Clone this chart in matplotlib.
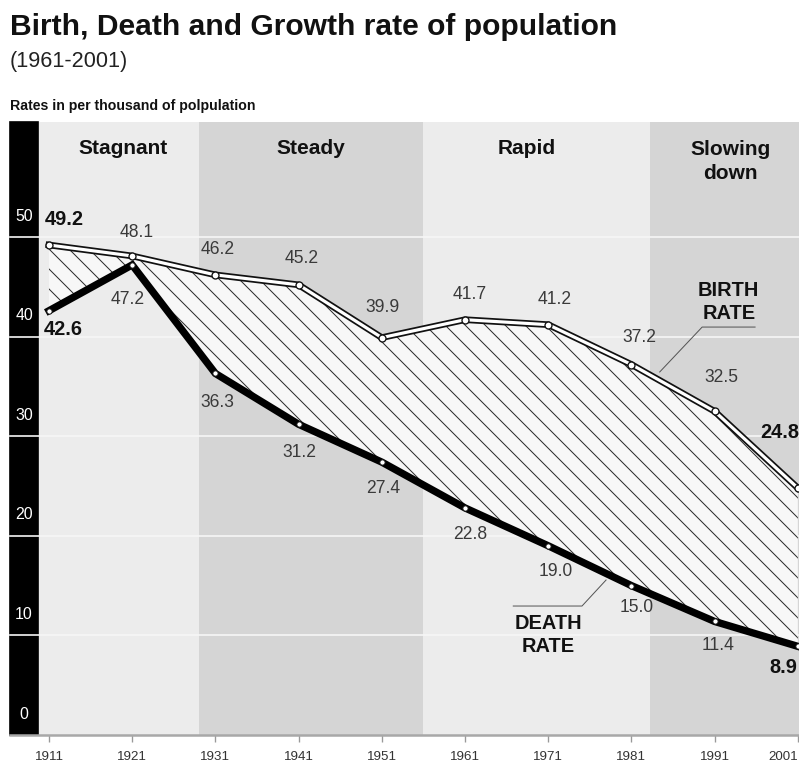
import matplotlib
matplotlib.use("Agg")
import matplotlib.pyplot as plt
from matplotlib.patches import Rectangle
from matplotlib.transforms import blended_transform_factory

# data
years = [1911, 1921, 1931, 1941, 1951, 1961, 1971, 1981, 1991, 2001]
birth_rate = [49.2, 48.1, 46.2, 45.2, 39.9, 41.7, 41.2, 37.2, 32.5, 24.8]
death_rate = [42.6, 47.2, 36.3, 31.2, 27.4, 22.8, 19.0, 15.0, 11.4, 8.9]

phase_names = ["Stagnant", "Steady", "Rapid", "Slowing\ndown"]
phase_edges = [1909.68, 1929.0, 1956.0, 1983.2, 2001.2]
phase_colors = ["#ececec", "#d5d5d5", "#ececec", "#d5d5d5"]
phase_label_x = [1919.9, 1942.5, 1968.4, 1992.9]

y_ticks = [0, 10, 20, 30, 40, 50]

# label offsets in pixels from each point
birth_offsets = [(15, 25), (4, 23), (2, 25), (3, 26), (1, 30), (5, 25), (6, 25), (8, 27), (7, 34), (-18, 56)]
death_offsets = [(14, -19), (-5, -35), (2, -29), (1, -28), (1, -26), (5, -27), (7, -26), (5, -22), (3, -24), (-15, -21)]

plt.rcParams["font.family"] = ["Liberation Sans", "DejaVu Sans"]
plt.rcParams["hatch.linewidth"] = 0.6

DPI = 120
fig = plt.figure(figsize=(799 / DPI, 769 / DPI), dpi=DPI)
fig.patch.set_facecolor("white")
ax = fig.add_axes([38 / 799, 34 / 769, 761 / 799, 613 / 769])
ax.set_xlim(1909.68, 2001.14)
ax.set_ylim(0, 61.55)

bar_w = 28 / 761

# phase bands
for name, x0, x1, col, lx in zip(phase_names, phase_edges[:-1], phase_edges[1:],
                                 phase_colors, phase_label_x):
    ax.axvspan(x0, x1, color=col, lw=0, zorder=0)
    yy = 58.9 if "\n" not in name else 57.58
    ax.text(lx, yy, name, ha="center", va="center", fontsize=12.5, fontweight="bold",
            color="#111", linespacing=1.3, zorder=6)

# black bar with y labels
ax.add_patch(Rectangle((-bar_w, 0), bar_w, 1, transform=ax.transAxes,
                       color="black", clip_on=False, zorder=1))
bt = blended_transform_factory(ax.transAxes, ax.transData)
for v in y_ticks:
    if v > 0:
        ax.axhline(v, xmin=-bar_w, xmax=1, color="#f6f6f6", lw=1.0, clip_on=False, zorder=2)
    ax.text(-bar_w / 2, v + 2.1, str(v), transform=bt, ha="center", va="center",
            fontsize=9.5, color="white", zorder=3)
ax.axhline(0, xmin=-bar_w, xmax=1, color="#a8a8a8", lw=1.5, clip_on=False, zorder=3)

# hatched gap between birth and death rates
ax.fill_between(years, death_rate, birth_rate, facecolor="#f7f7f7", edgecolor="#2a2a2a",
                hatch="\\\\", lw=0, zorder=3)

# birth rate: double line
ax.plot(years, birth_rate, color="#111", lw=4.0, solid_joinstyle="miter", zorder=4)
ax.plot(years, birth_rate, color="white", lw=1.9, solid_joinstyle="miter", zorder=4)
ax.plot(years, birth_rate, ls="none", marker="o", ms=4.2, mfc="white", mec="#111", mew=0.8, zorder=5)

# death rate: thick black line
ax.plot(years, death_rate, color="black", lw=4.4, solid_joinstyle="miter", zorder=4)
ax.plot(years, death_rate, ls="none", marker="o", ms=3.2, mfc="white", mec="#111", mew=0.6, zorder=5)

# value labels
last = len(years) - 1
for i, (yr, b, d) in enumerate(zip(years, birth_rate, death_rate)):
    kw = dict(textcoords="offset pixels", ha="center", va="center", zorder=6,
              annotation_clip=False)
    if i in (0, last):
        kw.update(fontsize=12, fontweight="bold", color="#111")
    else:
        kw.update(fontsize=10.5, color="#3a3a3a")
    ax.annotate(f"{b:.1f}", (yr, b), xytext=birth_offsets[i], **kw)
    ax.annotate(f"{d:.1f}", (yr, d), xytext=death_offsets[i], **kw)

# series captions with leader lines
ax.text(1992.7, 43.5, "BIRTH\nRATE", ha="center", va="center", fontsize=12,
        fontweight="bold", color="#111", linespacing=1.25, zorder=6)
ax.plot([1995.86, 1989.5, 1984.4], [40.96, 40.96, 36.45], color="#555", lw=0.6, zorder=6)
ax.text(1971.0, 10.04, "DEATH\nRATE", ha="center", va="center", fontsize=12,
        fontweight="bold", color="#111", linespacing=1.25, zorder=6)
ax.plot([1966.8, 1975.06, 1977.95], [12.95, 12.95, 15.56], color="#555", lw=0.6, zorder=6)

# axes styling
for s in ax.spines.values():
    s.set_visible(False)
ax.set_yticks([])
ax.set_xticks(years)
ax.set_xticklabels([str(y) for y in years], fontsize=8, color="#333")
ax.get_xticklabels()[-1].set_horizontalalignment("right")
ax.tick_params(axis="x", length=4.2, width=0.8, color="#999", pad=5.5)

# titles
fig.text(10 / 799, 1 - 35 / 769, "Birth, Death and Growth rate of population",
         fontsize=18, fontweight="bold", va="baseline", ha="left", color="#111")
fig.text(10 / 799, 1 - 67 / 769, "(1961-2001)", fontsize=13, va="baseline", ha="left", color="#222")
fig.text(10 / 799, 1 - 110 / 769, "Rates in per thousand of polpulation", fontsize=8.5,
         fontweight="bold", va="baseline", ha="left", color="#111")

fig.savefig("out.png", dpi=DPI)
